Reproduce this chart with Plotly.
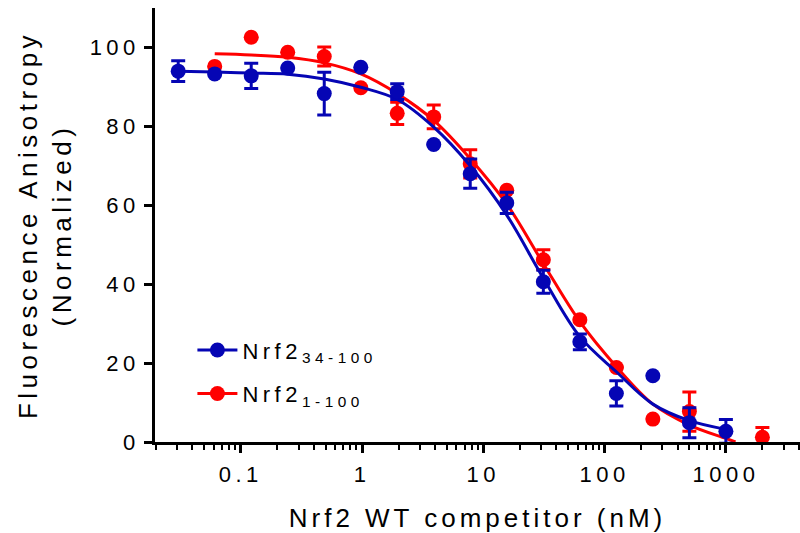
import plotly.graph_objects as go

# ---- data ----
conc_blue = [0.0305, 0.061, 0.122, 0.244, 0.488, 0.977, 1.95, 3.9, 7.8, 15.6, 31.25, 62.5, 125, 250, 500, 1000]
fa_blue = [94.0, 93.3, 92.8, 94.8, 88.3, 95.0, 88.8, 75.4, 68.0, 60.6, 40.6, 25.4, 12.3, 16.8, 4.9, 2.7]
sd_blue = [2.6, 0, 3.2, 0, 5.4, 0, 2.0, 0, 3.7, 2.7, 2.9, 2.0, 3.2, 0, 3.8, 3.0]

conc_red = [0.061, 0.122, 0.244, 0.488, 0.977, 1.95, 3.9, 7.8, 15.6, 31.25, 62.5, 125, 250, 500, 2000]
fa_red = [95.2, 102.6, 98.8, 97.7, 89.8, 83.3, 82.4, 70.5, 63.8, 46.2, 31.0, 18.9, 5.8, 7.7, 1.2]
sd_red = [0, 0, 0, 2.4, 0, 2.8, 3.0, 3.6, 0, 2.5, 0, 0, 0, 5.0, 2.5]

fit_x_blue = [0.0305, 0.061, 0.122, 0.244, 0.488, 0.977, 1.95, 3.9, 7.8, 15.6, 31.25, 62.5, 125, 250, 500, 1000]
fit_y_blue = [94.0, 93.8, 93.5, 93.2, 92.0, 89.9, 86.8, 79.8, 70.0, 57.5, 41.5, 26.7, 17.8, 9.6, 5.4, 3.2]

fit_x_red = [0.061, 0.122, 0.244, 0.488, 0.977, 1.95, 3.9, 7.8, 15.6, 31.25, 62.5, 125, 250, 500, 1000, 1200]
fit_y_red = [98.4, 98.1, 97.5, 96.1, 93.3, 88.3, 81.5, 71.8, 60.3, 45.2, 30.5, 19.1, 9.6, 4.3, 0.9, 0.0]

x_tickvals = [0.1, 1, 10, 100, 1000]
x_ticktext = ["0.1", "1", "10", "100", "1000"]
y_tickvals = [0, 20, 40, 60, 80, 100]

name_blue = "Nrf2<sub>34-100</sub>"
name_red = "Nrf2<sub>1-100</sub>"

BLUE = "#0505B4"
RED = "#FF0000"
FONT = "Liberation Sans, Arial, sans-serif"

fig = go.Figure()

# red series (drawn first, below blue)
fig.add_trace(go.Scatter(x=fit_x_red, y=fit_y_red, mode="lines",
                         line=dict(color=RED, width=3, shape="spline", smoothing=1.0),
                         showlegend=False, hoverinfo="skip"))
fig.add_trace(go.Scatter(x=conc_red, y=fa_red, mode="markers",
                         marker=dict(color=RED, size=15),
                         error_y=dict(type="data", array=sd_red, color=RED, thickness=3, width=7),
                         cliponaxis=False, showlegend=False))
# blue series
fig.add_trace(go.Scatter(x=fit_x_blue, y=fit_y_blue, mode="lines",
                         line=dict(color=BLUE, width=3, shape="spline", smoothing=1.0),
                         showlegend=False, hoverinfo="skip"))
fig.add_trace(go.Scatter(x=conc_blue, y=fa_blue, mode="markers",
                         marker=dict(color=BLUE, size=15),
                         error_y=dict(type="data", array=sd_blue, color=BLUE, thickness=3, width=7),
                         cliponaxis=False, showlegend=False))

# legend entries (line + marker symbol)
fig.add_trace(go.Scatter(x=[None], y=[None], mode="lines+markers", name=name_blue,
                         legendgroup="b",
                         line=dict(color=BLUE, width=3), marker=dict(color=BLUE, size=15)))
fig.add_trace(go.Scatter(x=[None], y=[None], mode="lines+markers", name=name_red,
                         legendgroup="r",
                         line=dict(color=RED, width=3), marker=dict(color=RED, size=15)))

fig.update_layout(
    width=800, height=533,
    margin=dict(l=155, r=0, t=8, b=91),
    paper_bgcolor="white", plot_bgcolor="white",
    font=dict(family=FONT, size=22, color="black"),
    showlegend=True,
    legend=dict(x=0.058, y=0.26, xanchor="left", yanchor="top",
                bgcolor="rgba(0,0,0,0)", font=dict(size=22),
                tracegroupgap=12, itemwidth=40),
    xaxis=dict(
        type="log", range=[-1.707, 3.611], automargin=False,
        tickvals=x_tickvals, ticktext=x_ticktext,
        ticks="outside", ticklen=8, tickwidth=2.5, tickcolor="black",
        ticklabelstandoff=3,
        minor=dict(ticks="outside", ticklen=5, tickwidth=2, tickcolor="black", dtick="D1", showgrid=False),
        showline=True, linecolor="black", linewidth=2.5,
        showgrid=False, zeroline=False,
        title=dict(text="Nrf2 WT competitor (nM)", standoff=24),
    ),
    yaxis=dict(
        range=[0, 110], automargin=False,
        tickvals=y_tickvals,
        ticks="outside", ticklen=8, tickwidth=2.5, tickcolor="black",
        showline=True, linecolor="black", linewidth=2.5,
        showgrid=False, zeroline=False,
        title=dict(text="Fluorescence Anisotropy<br>(Normalized)", standoff=25),
    ),
)

post_js = """
document.body.style.margin = '0';
document.body.style.padding = '0';
var gd = document.getElementById('{plot_id}');
gd.querySelectorAll('text').forEach(function(t){ t.style.letterSpacing = '4.5px'; });
gd.querySelectorAll('.xtitle').forEach(function(t){ t.style.letterSpacing = '4px'; });
gd.querySelectorAll('.ytitle').forEach(function(t){ t.style.letterSpacing = '4.5px'; });
gd.querySelectorAll('.legend [clip-path]').forEach(function(e){ e.removeAttribute('clip-path'); });
"""

fig.write_html("out.html", post_script=post_js, config={"displayModeBar": False})
